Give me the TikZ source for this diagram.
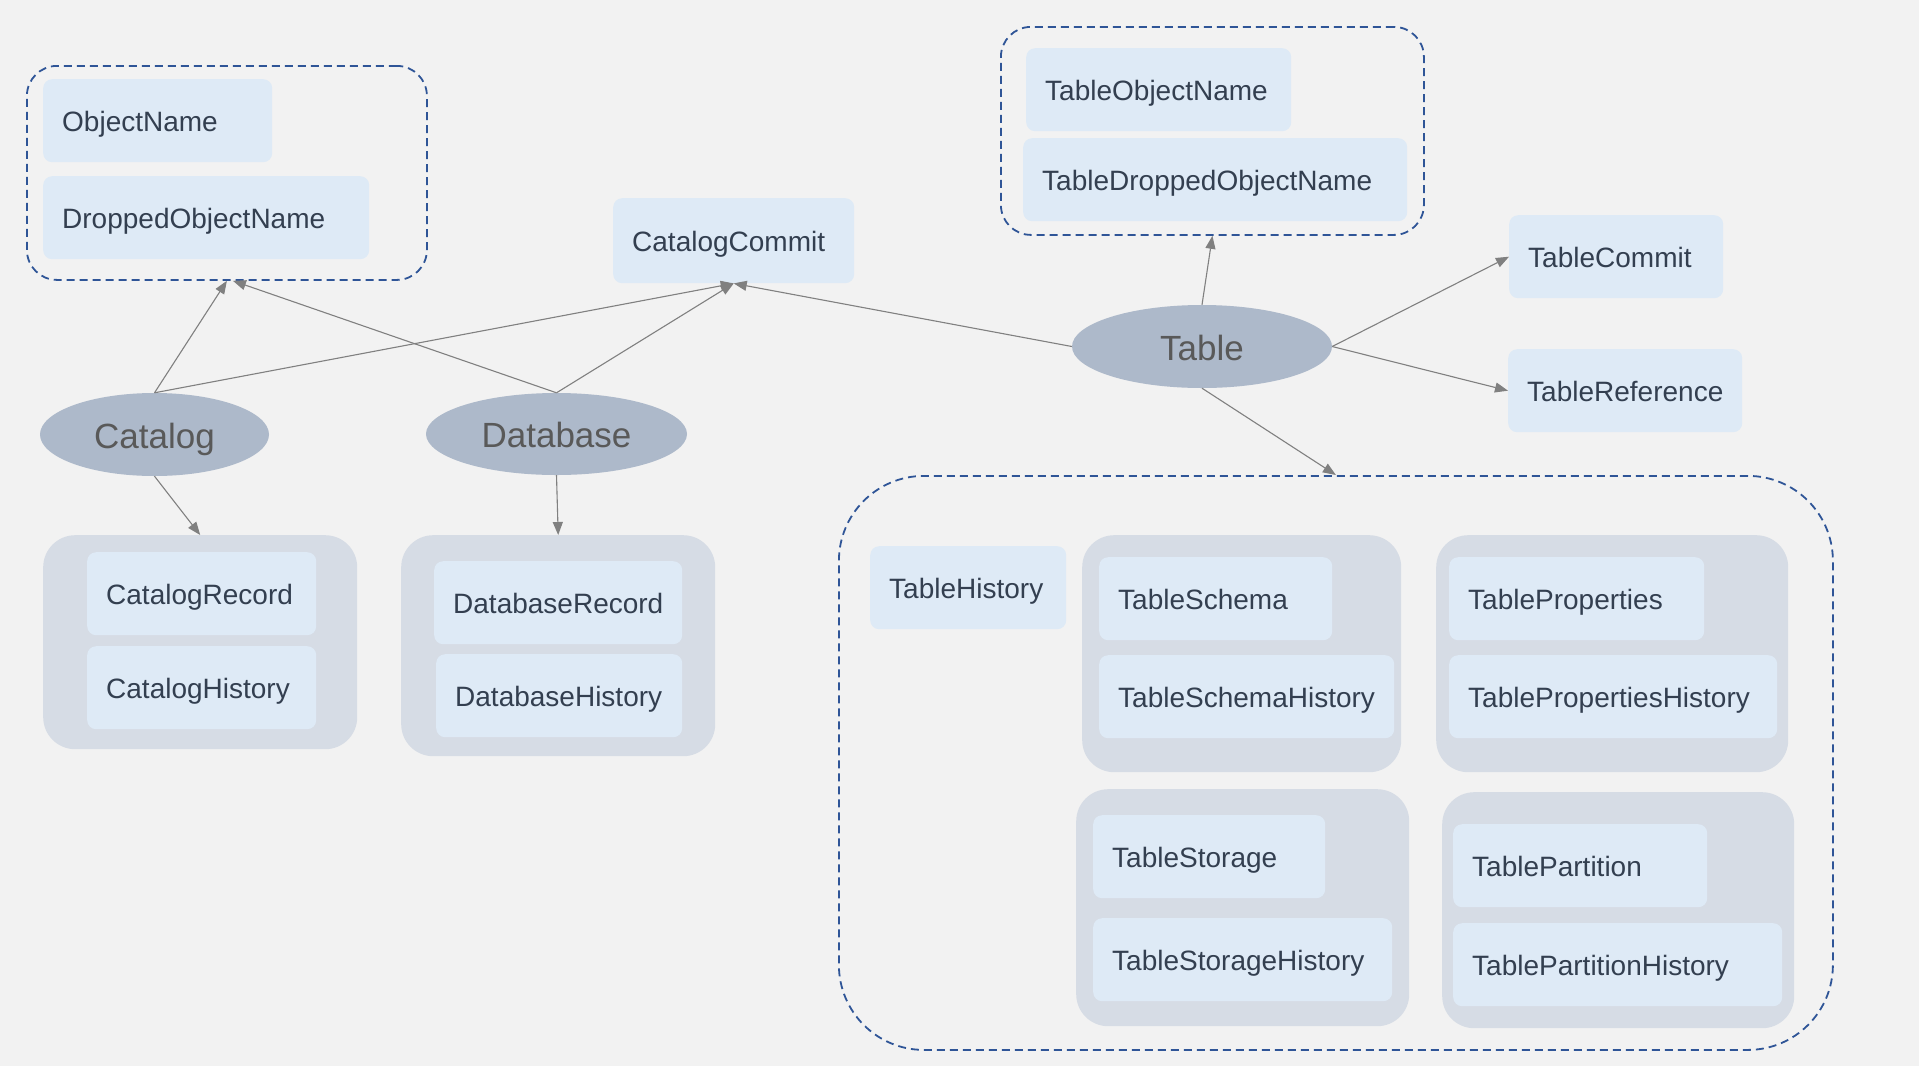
\documentclass[tikz,border=0pt]{standalone}
\usepackage{fontspec}
\setmainfont{Liberation Sans}
\usetikzlibrary{
  arrows.meta,
  positioning,
  shapes.geometric
}
\definecolor{PageGray}{RGB}{242,242,242}
\definecolor{BoxBlue}{RGB}{222,234,246}
\definecolor{GroupGray}{RGB}{214,220,229}
\definecolor{EntityGray}{RGB}{173,185,202}
\definecolor{FrameBlue}{RGB}{47,85,151}
\definecolor{LinkGray}{RGB}{128,128,128}
\definecolor{LabelNavy}{RGB}{51,63,80}
\definecolor{EntityText}{RGB}{89,89,89}
\tikzset{
  namebox/.style={fill=BoxBlue,rounded corners=9pt,anchor=north west,inner xsep=19pt,inner ysep=0pt,minimum height=83pt,text height=28pt,text depth=6pt,align=left,text=LabelNavy,font=\fontsize{28}{34}\selectfont},
  groupbox/.style={fill=GroupGray,rounded corners=32pt,anchor=north west,inner sep=0pt},
  framebox/.style={draw=FrameBlue,line width=1.8pt,dash pattern=on 8pt off 5pt,rounded corners=30pt,anchor=north west,inner sep=0pt},
  entity/.style={ellipse,fill=EntityGray,inner sep=0pt,text height=35pt,text depth=8pt,text=EntityText,font=\fontsize{35}{42}\selectfont},
  link/.style={-{Triangle[length=13pt,width=10pt]},line width=1.1pt,draw=LinkGray}
}

\begin{document}
\begin{tikzpicture}[x=1pt,y=-1pt]
\fill[PageGray] (0,0) rectangle (1919,1066);

% name frames
\node[framebox, minimum width=400pt, minimum height=214pt] (namegroup) at (26,65) {};
\node[namebox, text width=191pt] (objname) at (43,79) {ObjectName};
\node[namebox, text width=288pt] (droppedname) at (43,176) {DroppedObjectName};
\node[framebox, minimum width=423pt, minimum height=208pt] (tblnamegroup) at (1000,26) {};
\node[namebox, text width=227pt] (tblobjname) at (1026,48) {TableObjectName};
\node[namebox, text width=346pt] (tbldropped) at (1023,138) {TableDroppedObjectName};

\node[namebox, text width=203pt, minimum height=85pt] (catcommit) at (613,198) {CatalogCommit};
\node[namebox, text width=176pt] (tblcommit) at (1509,215) {TableCommit};
\node[namebox, text width=196pt] (tblref) at (1508,349) {TableReference};

% catalog and database
\node[groupbox, minimum width=314pt, minimum height=214pt] (catgroup) at (43,535) {};
\node[namebox, text width=191pt] (catrecord) at (87,552) {CatalogRecord};
\node[namebox, text width=191pt] (cathistory) at (87,646) {CatalogHistory};
\node[groupbox, minimum width=314pt, minimum height=221pt] (dbgroup) at (401,535) {};
\node[namebox, text width=210pt] (dbrecord) at (434,561) {DatabaseRecord};
\node[namebox, text width=208pt] (dbhistory) at (436,654) {DatabaseHistory};

% table parts
\node[framebox, rounded corners=85pt, minimum width=994pt, minimum height=574pt] (tblgroup) at (838,475) {};
\node[namebox, text width=158pt] (tblhistory) at (870,546) {TableHistory};
\node[groupbox, minimum width=319pt, minimum height=237pt] (schemagroup) at (1082,535) {};
\node[namebox, text width=195pt] (schema) at (1099,557) {TableSchema};
\node[namebox, text width=257pt] (schemahist) at (1099,655) {TableSchemaHistory};
\node[groupbox, minimum width=352pt, minimum height=237pt] (propgroup) at (1436,535) {};
\node[namebox, text width=217pt] (prop) at (1449,557) {TableProperties};
\node[namebox, text width=290pt] (prophist) at (1449,655) {TablePropertiesHistory};
\node[groupbox, minimum width=333pt, minimum height=237pt] (storgroup) at (1076,789) {};
\node[namebox, text width=194pt] (stor) at (1093,815) {TableStorage};
\node[namebox, text width=261pt] (storhist) at (1093,918) {TableStorageHistory};
\node[groupbox, minimum width=352pt, minimum height=236pt] (partgroup) at (1442,792) {};
\node[namebox, text width=216pt] (part) at (1453,824) {TablePartition};
\node[namebox, text width=291pt] (parthist) at (1453,923) {TablePartitionHistory};

% entities
\node[entity, minimum width=229pt, minimum height=83pt] (catalog) at (154.5,434.5) {Catalog};
\node[entity, minimum width=261pt, minimum height=82pt] (database) at (556.5,434) {Database};
\node[entity, minimum width=260pt, minimum height=83pt] (table) at (1202,346.5) {Table};

\draw[link] (catalog.north) -- (namegroup.south);
\draw[link] (catalog.north) -- (catcommit.south);
\draw[link] (database.north) -- ([xshift=6pt]namegroup.south);
\draw[link] (database.north) -- (catcommit.south);
\draw[link] (table.west) -- (catcommit.south);
\draw[link] (table.north) -- (tblnamegroup.south);
\draw[link] (table.east) -- (tblcommit.west);
\draw[link] (table.east) -- (tblref.west);
\draw[link] (table.south) -- (tblgroup.north);
\draw[link] (catalog.south) -- (catgroup.north);
\draw[link] (database.south) -- (dbgroup.north);
\end{tikzpicture}
\end{document}
